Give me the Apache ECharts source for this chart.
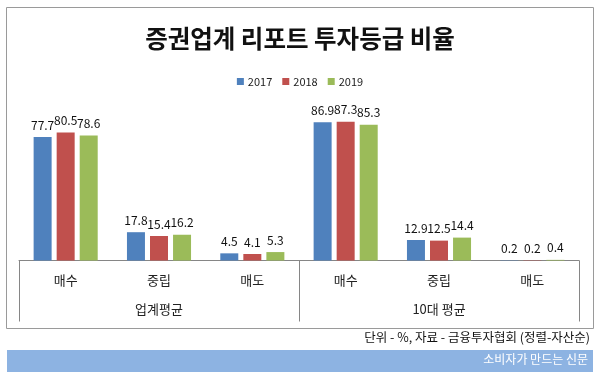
<!DOCTYPE html>
<html>
<head>
<meta charset="utf-8">
<script src="https://cdn.jsdelivr.net/npm/echarts@6/dist/echarts.min.js"></script>
<style>
html,body{margin:0;padding:0;background:#fff;}
#c{width:600px;height:381px;}
</style>
</head>
<body>
<div id="c"></div>
<script>
const categories = ['매수', '중립', '매도', '매수', '중립', '매도'];
const groups = ['업계평균', '10대 평균'];
const years = ['2017', '2018', '2019'];
const v2017 = [77.7, 17.8, 4.5, 86.9, 12.9, 0.2];
const v2018 = [80.5, 15.4, 4.1, 87.3, 12.5, 0.2];
const v2019 = [78.6, 16.2, 5.3, 85.3, 14.4, 0.4];
const titleText = '증권업계 리포트 투자등급 비율';
const sourceText = '단위 - %, 자료 - 금융투자협회 (정렬-자산순)';
const bannerText = '소비자가 만드는 신문';

const FONT = '"Noto Sans CJK KR", "Noto Sans", sans-serif';
const colors = ['#4F81BD', '#C0504D', '#9BBB59'];
const seriesValues = [v2017, v2018, v2019];

const chart = echarts.init(document.getElementById('c'), null, {renderer: 'canvas'});

const series = years.map((y, i) => ({
  name: y,
  type: 'bar',
  xAxisIndex: 0,
  barWidth: 18,
  barGap: '28%',
  itemStyle: {color: colors[i]},
  label: {
    show: true,
    position: 'top',
    distance: 6,
    color: '#111',
    fontFamily: FONT,
    fontSize: 12,
    formatter: p => p.value.toFixed(1)
  },
  data: seriesValues[i]
}));

chart.setOption({
  animation: false,
  backgroundColor: '#fff',
  textStyle: {fontFamily: FONT},
  title: {
    text: titleText,
    left: 'center',
    top: 21,
    textStyle: {fontFamily: FONT, fontSize: 24.5, fontWeight: 'bold', color: '#111'}
  },
  legend: {
    data: years,
    top: 71,
    left: 'center',
    itemWidth: 7,
    itemHeight: 7,
    itemGap: 10,
    icon: 'rect',
    textStyle: {fontFamily: FONT, fontSize: 11, color: '#222', padding: [0, 0, 0, -1]}
  },
  grid: {left: 19, right: 21, top: 101.5, bottom: 120.5, containLabel: false},
  xAxis: [
    {
      type: 'category',
      data: categories,
      position: 'bottom',
      axisLine: {show: true, lineStyle: {color: '#868686', width: 1}},
      axisTick: {show: false},
      axisLabel: {margin: 13, fontFamily: FONT, fontSize: 13, color: '#222'}
    },
    {
      type: 'category',
      data: groups,
      position: 'bottom',
      axisLine: {show: false},
      axisTick: {show: true, length: 61, lineStyle: {color: '#868686', width: 1}},
      axisLabel: {margin: 42, fontFamily: FONT, fontSize: 13, color: '#222'}
    }
  ],
  yAxis: {
    type: 'value',
    min: 0,
    max: 100,
    show: false,
    splitLine: {show: false}
  },
  series: series,
  graphic: [
    {
      type: 'rect',
      shape: {x: 6.5, y: 7.5, width: 587, height: 321},
      style: {fill: 'none', stroke: '#9a9a9a', lineWidth: 1},
      z: -1
    },
    {
      type: 'text',
      right: 10,
      top: 331,
      style: {text: sourceText, font: '12.5px ' + FONT, fill: '#111'}
    },
    {
      type: 'rect',
      shape: {x: 7, y: 350, width: 586, height: 22},
      style: {fill: '#8DB3E2'}
    },
    {
      type: 'text',
      right: 12,
      top: 353,
      style: {text: bannerText, font: '12px ' + FONT, fill: '#fff'}
    }
  ]
});
</script>
</body>
</html>
